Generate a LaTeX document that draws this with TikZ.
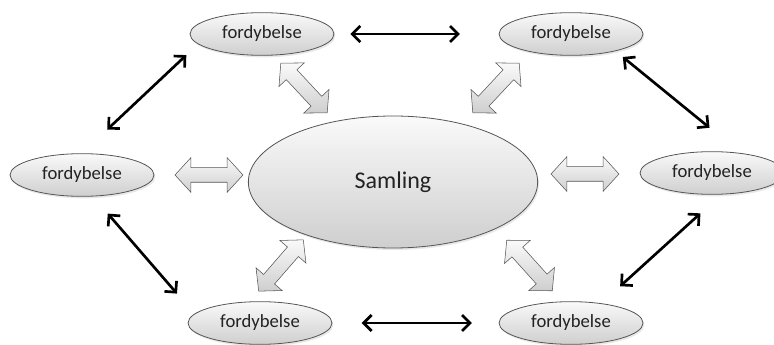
\documentclass[tikz,border=0pt]{standalone}
\usepackage{fontspec}
\setmainfont{Carlito}
\usetikzlibrary{shapes.geometric, shapes.arrows, arrows.meta, shadows}
\definecolor{rim}{HTML}{555555}
\definecolor{ink}{HTML}{222222}
\tikzset{
    bubble/.style={ % the six small ellipses
        ellipse, draw=rim, semithick,
        top color=gray!4, bottom color=gray!38,
        minimum width=108pt, minimum height=32pt, inner sep=0pt,
        text=ink, font=\fontsize{14}{16}\selectfont,
        drop shadow={opacity=0.18, shadow xshift=1pt, shadow yshift=-1.5pt}
    },
    hub/.style={ % the big ellipse in the middle
        bubble,
        minimum width=217pt, minimum height=99pt,
        font=\fontsize{18}{20}\selectfont
    },
    fat/.style={ % grey block double arrows
        double arrow, draw=rim, thin,
        top color=gray!4, bottom color=gray!38,
        minimum height=51pt, inner xsep=0pt, inner ysep=5.25pt,
        double arrow head extend=7.5pt, double arrow tip angle=95
    },
    link/.style={ % thin black double arrows
        <->, >={Straight Barb[length=6pt,width=12pt]},
        line width=2pt
    }
}

\begin{document}
\begin{tikzpicture}[x=0.75pt, y=-0.75pt]
    \clip (0,0) rectangle (774,345);

    \node[hub]    (c)  at (393,182) {Samling};
    \node[bubble] (tl) at (262,34)  {fordybelse};
    \node[bubble] (tr) at (571,34)  {fordybelse};
    \node[bubble] (l)  at (82,175)  {fordybelse};
    \node[bubble] (r)  at (712,173) {fordybelse};
    \node[bubble] (bl) at (260,323) {fordybelse};
    \node[bubble] (br) at (571,323) {fordybelse};

    % block arrows round the hub
    \node[fat]              (al)  at (209,175)   {};
    \node[fat]              (ar)  at (585,174)   {};
    \node[fat, rotate=-47]  (atl) at (304,88)    {};
    \node[fat, rotate=47]   (atr) at (496,88)    {};
    \node[fat, rotate=49]   (abl) at (281,265.5) {};
    \node[fat, rotate=-48]  (abr) at (529.5,265.5) {};

    % ring of black arrows
    \draw[link, shorten <=12pt, shorten >=29pt] (tl.east) -- (tr.west);
    \draw[link, shorten <=22pt, shorten >=20pt] (bl.east) -- (br.west);
    \draw[link, shorten <=26pt, shorten >=12pt] (l.north) -- (tl.189);
    \draw[link, shorten <=7pt,  shorten >=30pt] (tr.339) -- (r.35);
    \draw[link, shorten <=17pt, shorten >=20pt] (l.-63)  -- (bl.172);
    \draw[link, shorten <=19pt, shorten >=21pt] (br.33)  -- (r.-67);
\end{tikzpicture}
\end{document}
